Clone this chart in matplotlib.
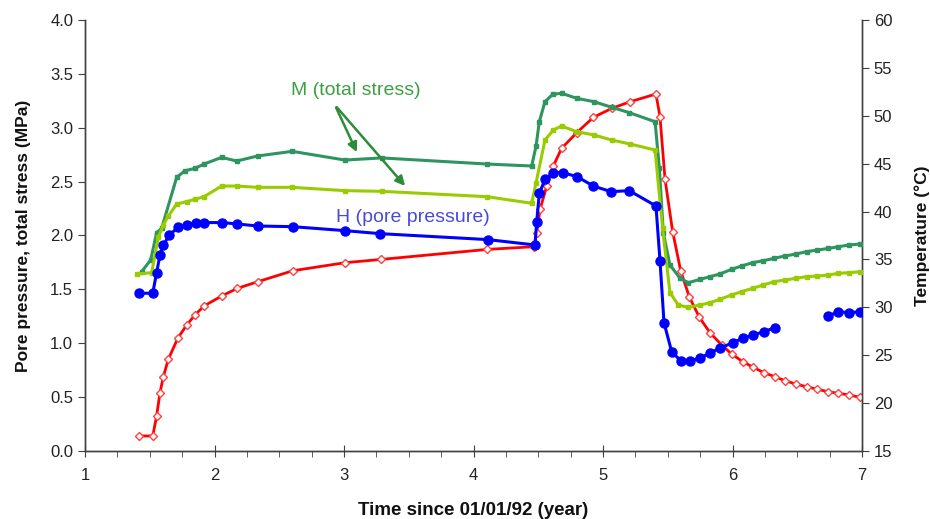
import numpy as np
import matplotlib.pyplot as plt
import matplotlib.ticker as ticker

plt.rcParams['font.family'] = ['Liberation Sans', 'DejaVu Sans']

# ── Data ──────────────────────────────────────────────────────────────────────

# H: pore pressure (MPa), gap in record between ~6.35 and ~6.75
h_t = [1.417, 1.523, 1.553, 1.579, 1.605, 1.651, 1.72, 1.785, 1.855, 1.919,
       2.06, 2.176, 2.333, 2.604, 3.008, 3.28, 4.11, 4.475,
       4.488, 4.508, 4.552, 4.616, 4.689, 4.80, 4.925, 5.062, 5.203, 5.409,
       5.44, 5.471, 5.53, 5.60, 5.672, 5.749, 5.826, 5.903, 6.0, 6.079,
       6.161, 6.243, 6.328, 6.5,
       6.74, 6.817, 6.902, 6.985]
h_p = [1.464, 1.464, 1.655, 1.82, 1.91, 2.005, 2.076, 2.097, 2.12, 2.12,
       2.12, 2.107, 2.088, 2.082, 2.045, 2.017, 1.962, 1.912,
       2.128, 2.39, 2.52, 2.583, 2.583, 2.546, 2.459, 2.407, 2.416, 2.274,
       1.766, 1.191, 0.922, 0.838, 0.838, 0.86, 0.912, 0.953, 1.005, 1.046,
       1.077, 1.108, 1.145, np.nan,
       1.253, 1.293, 1.284, 1.293]

# M: total stress, two gauges (MPa)
m1_t = [1.437, 1.507, 1.553, 1.592, 1.708, 1.772, 1.849, 1.919, 2.055, 2.171,
        2.333, 2.600, 3.008, 3.29, 4.107, 4.449,
        4.483, 4.508, 4.552, 4.611, 4.68, 4.797, 4.93, 5.067, 5.203, 5.402,
        5.435, 5.466, 5.517, 5.595, 5.659, 5.749, 5.826, 5.903, 5.993, 6.07,
        6.156, 6.238, 6.32, 6.405, 6.49, 6.572, 6.655, 6.74, 6.817, 6.902, 6.985]
m1_p = [1.664, 1.773, 2.026, 2.067, 2.54, 2.601, 2.623, 2.663, 2.725, 2.691,
        2.738, 2.781, 2.70, 2.72, 2.663, 2.645,
        2.83, 3.056, 3.242, 3.31, 3.32, 3.273, 3.242, 3.19, 3.14, 3.056,
        2.624, 2.02, 1.726, 1.603, 1.562, 1.593, 1.618, 1.643, 1.686, 1.717,
        1.748, 1.766, 1.788, 1.81, 1.828, 1.85, 1.865, 1.88, 1.896, 1.912, 1.921]

m2_t = [1.40, 1.515, 1.566, 1.605, 1.643, 1.708, 1.785, 1.849, 1.919, 2.055,
        2.171, 2.333, 2.600, 3.008, 3.29, 4.107, 4.449,
        4.483, 4.552, 4.616, 4.68, 4.797, 4.93, 5.067, 5.21, 5.402,
        5.46, 5.517, 5.582, 5.659, 5.749, 5.826, 5.903, 5.993, 6.07,
        6.156, 6.238, 6.32, 6.405, 6.49, 6.572, 6.655, 6.74, 6.817, 6.902, 6.985]
m2_p = [1.643, 1.655, 1.983, 2.097, 2.18, 2.292, 2.314, 2.336, 2.36, 2.459,
        2.459, 2.447, 2.447, 2.416, 2.41, 2.36, 2.299,
        2.49, 2.886, 2.979, 3.016, 2.963, 2.933, 2.886, 2.849, 2.793,
        2.067, 1.469, 1.355, 1.333, 1.355, 1.376, 1.408, 1.448, 1.479,
        1.51, 1.541, 1.571, 1.587, 1.603, 1.618, 1.624, 1.633, 1.649, 1.655, 1.664]

# Temperature (deg C, right axis)
temp_t = [1.419, 1.523, 1.553, 1.579, 1.605, 1.643, 1.716, 1.785, 1.849, 1.919,
          2.055, 2.176, 2.333, 2.604, 3.008, 3.286, 4.107, 4.467,
          4.488, 4.514, 4.565, 4.616, 4.68, 4.797, 4.925, 5.067, 5.208, 5.409,
          5.44, 5.479, 5.538, 5.60, 5.666, 5.744, 5.826, 5.917, 5.993, 6.079,
          6.161, 6.243, 6.328, 6.405, 6.49, 6.572, 6.655, 6.74, 6.817, 6.902, 6.985]
temp_c = [16.57, 16.57, 18.65, 21.09, 22.76, 24.57, 26.76, 28.15, 29.2, 30.14,
          31.18, 31.98, 32.67, 33.82, 34.66, 35.0, 36.05, 36.33,
          37.79, 40.23, 42.66, 44.75, 46.6, 48.23, 49.83, 50.77, 51.46, 52.27,
          49.9, 43.36, 37.89, 33.8, 31.1, 28.96, 27.35, 26.06, 25.13, 24.32,
          23.74, 23.17, 22.76, 22.34, 21.99, 21.71, 21.44, 21.19, 21.02, 20.85, 20.6]

# ── Plot ──────────────────────────────────────────────────────────────────────

fig = plt.figure(figsize=(9.3, 5.19), dpi=100)
ax = fig.add_axes([0.0914, 0.131, 0.8355, 0.8305])
ax2 = ax.twinx()

ax.plot(m1_t, m1_p, color="#2E9460", lw=2.2, marker="s", ms=3.5, zorder=3)
ax.plot(m2_t, m2_p, color="#99CC00", lw=2.2, marker="s", ms=3.5, zorder=3)
ax.plot(h_t, h_p, color="#0000FF", lw=2.2, marker="o", ms=6.5, zorder=4)
ax2.plot(temp_t, temp_c, color="#FF0000", lw=2.0, marker="D", ms=4.5,
         mfc="white", mec="#FF4040", mew=1.0, zorder=5)

ax.set_xlim(1, 7)
ax.set_ylim(0, 4)
ax2.set_ylim(15, 60)

ax.xaxis.set_major_locator(ticker.MultipleLocator(1))
ax.xaxis.set_minor_locator(ticker.MultipleLocator(0.25))
ax.yaxis.set_major_locator(ticker.MultipleLocator(0.5))
ax.yaxis.set_major_formatter(ticker.FormatStrFormatter("%.1f"))
ax2.yaxis.set_major_locator(ticker.MultipleLocator(5))

for a in (ax, ax2):
    a.spines["top"].set_visible(False)
    for s in ("left", "right", "bottom"):
        a.spines[s].set_color("#404040")
        a.spines[s].set_linewidth(1.0)

ax.tick_params(axis="x", which="major", direction="inout", length=8,
               labelsize=12, colors="#404040", labelcolor="#222222", pad=8)
ax.tick_params(axis="x", which="minor", direction="out", length=4, colors="#404040")
ax.tick_params(axis="y", direction="out", length=5, labelsize=12,
               colors="#404040", labelcolor="#222222")
ax2.tick_params(axis="y", direction="out", length=5, labelsize=12,
                colors="#404040", labelcolor="#222222")

ax.set_xlabel("Time since 01/01/92 (year)", fontsize=13.5, fontweight="bold",
              color="#111111", labelpad=14,
              family=["Liberation Sans Narrow", "Liberation Sans"])
ax.set_ylabel("Pore pressure, total stress (MPa)", fontsize=12.5,
              fontweight="bold", color="#111111", labelpad=14)
ax2.set_ylabel("Temperature (°C)", fontsize=12.5, fontweight="bold",
               color="#111111", labelpad=16)

# Annotations
ax.text(3.09, 3.35, "M (total stress)", color="#3CA040", fontsize=14,
        ha="center", va="center")
for tip in [(3.108, 2.75), (3.486, 2.44)]:
    ax.annotate("", xy=tip, xytext=(2.93, 3.21),
                arrowprops=dict(arrowstyle="-|>", color="#2E8B3A", lw=1.8,
                                mutation_scale=14))
ax.text(3.53, 2.17, "H (pore pressure)", color="#4A4AD8", fontsize=14,
        ha="center", va="center")

ax.set_zorder(ax2.get_zorder() + 1)
ax.patch.set_visible(False)

fig.savefig("out.png", dpi=100)
